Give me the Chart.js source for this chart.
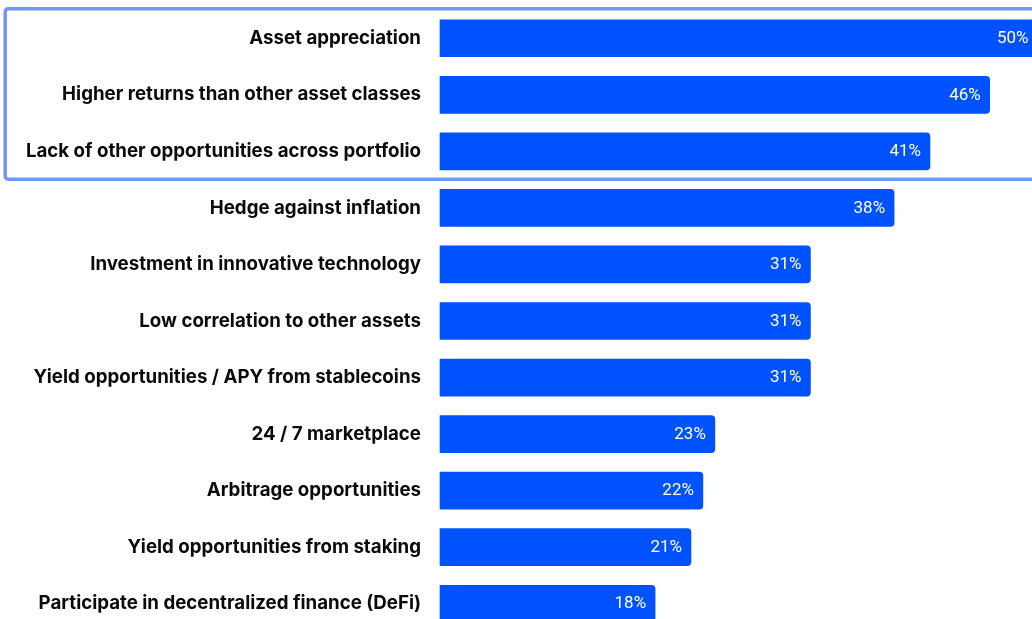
<!DOCTYPE html>
<html>
<head>
<meta charset="utf-8">
<script src="https://cdn.jsdelivr.net/npm/chart.js@4.4.1/dist/chart.umd.min.js"></script>
<style>
  html, body { margin: 0; padding: 0; background: #ffffff; overflow: hidden; }
  #wrap { position: relative; width: 1032px; height: 632px; }
</style>
</head>
<body>
<div id="wrap"><canvas id="chart"></canvas></div>
<script>
// Reasons for holding crypto, share of respondents (%)
const categories = [
  'Asset appreciation',
  'Higher returns than other asset classes',
  'Lack of other opportunities across portfolio',
  'Hedge against inflation',
  'Investment in innovative technology',
  'Low correlation to other assets',
  'Yield opportunities / APY from stablecoins',
  '24 / 7 marketplace',
  'Arbitrage opportunities',
  'Yield opportunities from staking',
  'Participate in decentralized finance (DeFi)'
];
const shares = [50, 46, 41, 38, 31, 31, 31, 23, 22, 21, 18];

// Top reasons framed by the outline box
const highlightedRows = 3;

const BAR_BLUE = '#0052ff';
const FRAME_BLUE = '#7096f8';

// Value labels inside the end of each bar
const valueLabels = {
  id: 'valueLabels',
  afterDatasetsDraw(chart) {
    const { ctx } = chart;
    const meta = chart.getDatasetMeta(0);
    ctx.save();
    ctx.font = '400 17px Roboto, "Noto Sans", sans-serif';
    ctx.fillStyle = '#ffffff';
    ctx.textAlign = 'right';
    ctx.textBaseline = 'middle';
    meta.data.forEach((bar, i) => {
      ctx.fillText(shares[i] + '%', bar.x - 9, bar.y + 0.5);
    });
    ctx.restore();
  }
};

// Rounded outline around the leading rows
const highlightFrame = {
  id: 'highlightFrame',
  afterDraw(chart) {
    const { ctx } = chart;
    const y = chart.scales.y;
    const band = (y.bottom - y.top) / categories.length;
    const top = y.getPixelForValue(0) - band / 2 - 1.2;
    const bottom = y.getPixelForValue(highlightedRows - 1) + band / 2 - 0.5;
    ctx.save();
    ctx.strokeStyle = FRAME_BLUE;
    ctx.lineWidth = 3.5;
    ctx.beginPath();
    ctx.roundRect(5.2, top, chart.width + 20, bottom - top, 3);
    ctx.stroke();
    ctx.restore();
  }
};

new Chart(document.getElementById('chart'), {
  type: 'bar',
  data: {
    labels: categories,
    datasets: [{
      data: shares,
      backgroundColor: BAR_BLUE,
      borderRadius: 4,
      barThickness: 37,
      clip: false
    }]
  },
  options: {
    indexAxis: 'y',
    responsive: true,
    maintainAspectRatio: false,
    animation: false,
    layout: { padding: { top: 10, right: 0, bottom: 0, left: 0 } },
    plugins: {
      legend: { display: false },
      tooltip: { enabled: false }
    },
    scales: {
      x: {
        display: false,
        min: 0,
        max: 49.54
      },
      y: {
        grid: { display: false, drawTicks: false },
        border: { display: false },
        ticks: {
          padding: 19,
          color: '#0a0b0d',
          font: { family: 'Inter, "Noto Sans", sans-serif', size: 18.7, weight: '700' }
        },
        afterFit(scale) {
          scale.width = 440;
          scale.paddingTop = 0;
          scale.paddingBottom = 0;
        }
      }
    }
  },
  plugins: [valueLabels, highlightFrame]
});
</script>
</body>
</html>
